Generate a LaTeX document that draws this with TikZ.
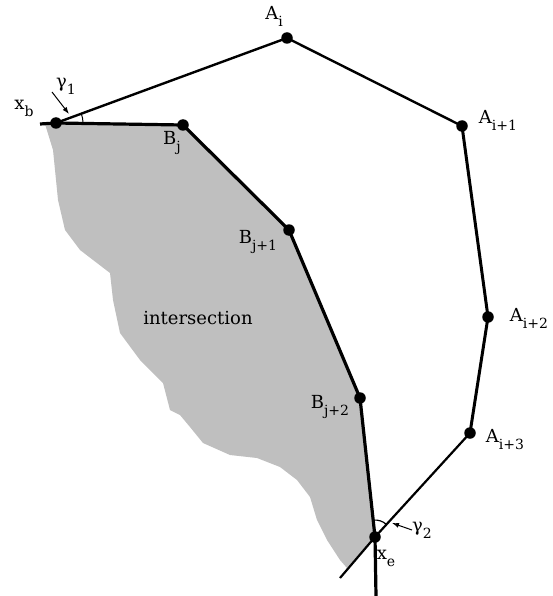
\documentclass[tikz,border=0pt]{standalone}
\usepackage{fontspec}
\setmainfont{DejaVu Serif}
\usetikzlibrary{arrows.meta,angles,backgrounds}
\newcommand\lowsub[1]{\raisebox{-7pt}{\fontsize{14}{14}\selectfont #1}}

\begin{document}
\begin{tikzpicture}[x=1pt,y=-1pt,font=\fontsize{18}{20}\selectfont,>={Latex[length=7pt,width=5pt]},
  dot/.style={circle,fill,inner sep=0pt,minimum size=11.5pt},
  lbl/.style={inner sep=0pt}]
\useasboundingbox (0,0) rectangle (553,596);
% points of A and B
\node[dot] (ai) at (287,38) {};
\node[dot] (a1) at (462,126) {};
\node[dot] (a2) at (488,317) {};
\node[dot] (a3) at (470,433) {};
\node[dot] (xb) at (56,123) {};
\node[dot] (bj) at (183,125) {};
\node[dot] (b1) at (289,230) {};
\node[dot] (b2) at (360,398) {};
\node[dot] (xe) at (375,537) {};
\coordinate (xs) at (40,124);
\coordinate (xd) at (376,596);
\coordinate (xt) at (340,578);
% labels
\node[lbl] (lai) at (274,16) {A\lowsub{i}};
\node[lbl] (la1) at (498,120) {A\lowsub{i+1}};
\node[lbl] (la2) at (529,318) {A\lowsub{i+2}};
\node[lbl] (la3) at (505,440) {A\lowsub{i+3}};
\node[lbl] (lbj) at (172,143) {B\lowsub{j}};
\node[lbl] (lb1) at (258,242) {B\lowsub{j+1}};
\node[lbl] (lb2) at (330,407) {B\lowsub{j+2}};
\node[lbl] (lxb) at (24,108) {x\lowsub{b}};
\node[lbl] (lxe) at (386,558) {x\lowsub{e}};
\node[lbl] (g1) at (66,86) {γ\lowsub{1}};
\node[lbl] (g2) at (422,530) {γ\lowsub{2}};
\node[lbl] (is) at (198,318) {intersection};
% intersection region
\begin{scope}[on background layer]
\fill[black!25] (45,124) -- (bj.center) -- (b1.center) -- (b2.center) -- (xe.center) -- (347,568)
  -- (340,560) -- (327,540) -- (317,520) -- (310,497) -- (297,480) -- (280,467) -- (257,458)
  -- (230,455) -- (203,443) -- (190,427) -- (180,415) -- (170,410) -- (163,383) -- (140,360)
  -- (120,333) -- (113,300) -- (110,273) -- (80,250) -- (65,230) -- (58,200) -- (53,150) -- cycle;
\end{scope}
% edges
\draw[line width=3.2pt] (xs) -- (xb.center) -- (bj.center) -- (b1.center) -- (b2.center) -- (xe.center) -- (xd);
\draw[line width=2.4pt] (xb.center) -- (ai.center) -- (a1.center);
\draw[line width=3pt] (a1.center) -- (a2.center) -- (a3.center);
\draw[line width=2.2pt] (a3.center) -- (xe.center) -- (xt);
% angles
\pic[draw,line width=1pt,angle radius=27pt] {angle=bj--xb--ai};
\pic[draw,line width=1.2pt,angle radius=17pt] {angle=a3--xe--b2};
\coordinate (g1s) at (52,92);
\coordinate (g1t) at (69,114);
\coordinate (g2t) at (392,523);
\draw[->,line width=1pt] (g1s) -- (g1t);
\draw[->,line width=1pt] (g2.west) -- (g2t);
\end{tikzpicture}
\end{document}
